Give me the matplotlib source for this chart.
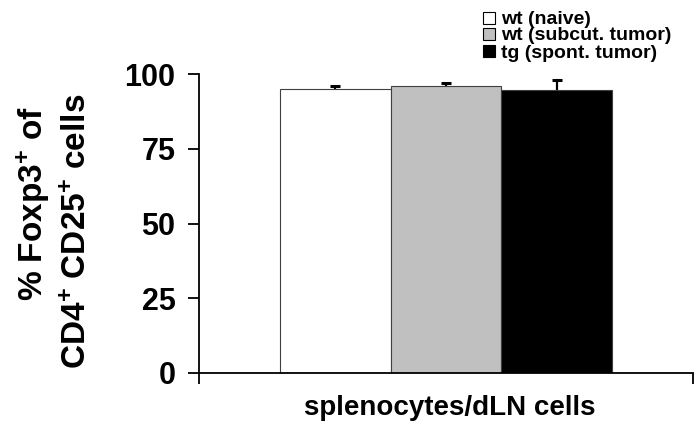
import numpy as np
import matplotlib.pyplot as plt
from matplotlib.patches import Rectangle

plt.rcParams['font.family'] = ['Liberation Sans', 'DejaVu Sans']
plt.rcParams['font.weight'] = 'bold'
plt.rcParams['mathtext.fontset'] = 'custom'
plt.rcParams['mathtext.rm'] = 'Liberation Sans:bold'
plt.rcParams['mathtext.default'] = 'rm'

# Data
groups = ['wt (naive)', 'wt (subcut. tumor)', 'tg (spont. tumor)']
values = [94.9, 96.1, 94.5]
errors = [1.1, 0.9, 3.6]
colors = ['white', '#c0c0c0', 'black']
yticks = [0, 25, 50, 75, 100]
xlabel = 'splenocytes/dLN cells'

W, H = 696, 426
fig = plt.figure(figsize=(W / 100, H / 100), dpi=100)
ax = fig.add_axes([199 / W, 1 - 373 / H, (693 - 199) / W, (373 - 74) / H])

width = 0.224
x = 0.5 + (np.arange(len(values)) - 1) * width
for xi, v, e, c in zip(x, values, errors, colors):
    ax.bar(xi, v, width=width, color=c, edgecolor='#404040', linewidth=0.8, zorder=2)
    eb = ax.errorbar(xi, v, yerr=[[0], [e]], fmt='none', ecolor='black',
                     elinewidth=1.6, capsize=3.5, capthick=2.2, zorder=3)
    # upper error only: hide the cap sitting on the bar top
    for cap in eb[1]:
        if cap.get_ydata()[0] <= v:
            cap.set_visible(False)

ax.set_xlim(0, 1)
ax.set_ylim(0, 100)
ax.set_yticks(yticks)
ax.set_xticks([0, 1])
ax.set_xticklabels(['', ''])
for s in ['top', 'right']:
    ax.spines[s].set_visible(False)
for s in ['left', 'bottom']:
    ax.spines[s].set_linewidth(1.3)
ax.tick_params(axis='y', direction='out', length=8, width=1.3, pad=9, labelsize=22)
ax.tick_params(axis='x', direction='out', length=8, width=1.3)
for lbl in ax.get_yticklabels():
    lbl.set_fontweight('bold')

fig.text(450 / W, 1 - 408 / H, xlabel, ha='center', va='center', fontsize=20, fontweight='bold')
fig.text(33 / W, 1 - 204 / H, '% Foxp3$^{+}$ of', rotation=90, ha='center', va='center',
         fontsize=24, fontweight='bold')
fig.text(78 / W, 1 - 231 / H, 'CD4$^{+}$ CD25$^{+}$ cells', rotation=90, ha='center', va='center',
         fontsize=24, fontweight='bold')

# legend drawn by hand to match tight row spacing
row_tops = [12, 28, 45]
for top, lab, c in zip(row_tops, groups, colors):
    fig.patches.append(Rectangle((483 / W, 1 - (top + 12) / H), 12 / W, 12 / H,
                                 transform=fig.transFigure, facecolor=c,
                                 edgecolor='black', linewidth=0.8))
    fig.text(501 / W, 1 - (top + 6) / H, lab, ha='left', va='center_baseline',
             fontsize=14, fontweight='bold')

fig.savefig('out.png', dpi=100)
